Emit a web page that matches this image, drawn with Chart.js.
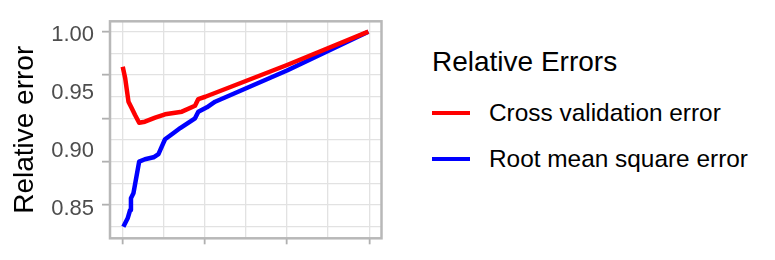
<!DOCTYPE html>
<html>
<head>
<meta charset="utf-8">
<title>Relative Errors</title>
<script src="https://cdn.jsdelivr.net/npm/chart.js@4"></script>
<style>
  body { margin: 0; background: #fff; font-family: "Liberation Sans", Arial, sans-serif; }
  #wrap { position: relative; width: 775px; height: 260px; }
  #chart-box { position: absolute; left: 0; top: 0; width: 400px; height: 260px; }
  .legend-title { position: absolute; left: 432px; top: 47.5px; font-size: 28px; line-height: 1; color: #000; white-space: nowrap; }
  .legend-key { position: absolute; left: 432px; width: 38px; height: 4px; }
  .legend-text { position: absolute; left: 489px; font-size: 24.4px; line-height: 1; color: #000; white-space: nowrap; }
</style>
</head>
<body>
<div id="wrap">
  <div id="chart-box"><canvas id="errors-chart"></canvas></div>
  <div id="legend"></div>
</div>
<script>
// series (x in plot units, grid every 10)
const cvX = [0, 0.6, 1.4, 2.2, 3.0, 4.0, 5.4, 7.9, 10.3, 14.4, 17.6, 18.4, 20.1, 40.0, 59.8];
const cvY = [0.9697, 0.9597, 0.9394, 0.9337, 0.9279, 0.9212, 0.9221, 0.9256, 0.9285, 0.9308, 0.9359, 0.9417, 0.9437, 0.9712, 1.0];
const rmseX = [0.15, 1.2, 1.8, 2.0, 2.6, 4.0, 5.4, 7.5, 8.7, 9.5, 10.3, 12.3, 14.0, 17.6, 18.4, 20.5, 22.5, 40.0, 59.8];
const rmseY = [0.8312, 0.8385, 0.8457, 0.8558, 0.8601, 0.8875, 0.8896, 0.8913, 0.8941, 0.9005, 0.9069, 0.9121, 0.9166, 0.9250, 0.9308, 0.9346, 0.9394, 0.9664, 1.0];

const seriesNames = ['Cross validation error', 'Root mean square error'];
const seriesColors = ['#ff0000', '#0000ff'];
const legendTitle = 'Relative Errors';

const xGridTicks = [0, 10, 20, 30, 40, 50, 60];
const yGridTicks = [0.83125, 0.85, 0.86875, 0.8875, 0.90625, 0.925, 0.94375, 0.9625, 0.98125, 1.0];
const yLabelTicks = [0.85, 0.90, 0.95, 1.00];

const toPoints = (xs, ys) => xs.map((x, i) => ({ x, y: ys[i] }));

const panelBorder = {
  id: 'panelBorder',
  afterDraw(chart) {
    const { ctx, chartArea: a } = chart;
    ctx.save();
    ctx.strokeStyle = '#b8b8b8';
    ctx.lineWidth = 2.5;
    ctx.strokeRect(a.left, a.top, a.right - a.left, a.bottom - a.top);
    ctx.restore();
  }
};

const yRange = { min: 0.8212, max: 1.0090 };

new Chart(document.getElementById('errors-chart'), {
  type: 'scatter',
  data: {
    datasets: [
      { label: seriesNames[0], data: toPoints(cvX, cvY), borderColor: seriesColors[0] },
      { label: seriesNames[1], data: toPoints(rmseX, rmseY), borderColor: seriesColors[1] },
    ].map((d) => ({ ...d, showLine: true, borderWidth: 4.5, pointRadius: 0, tension: 0, borderJoinStyle: 'round' })),
  },
  options: {
    responsive: true,
    maintainAspectRatio: false,
    animation: false,
    layout: { padding: { top: 21.3, right: 18.5, left: 0, bottom: 0 } },
    plugins: { legend: { display: false }, tooltip: { enabled: false } },
    scales: {
      x: {
        type: 'linear',
        min: -3.1,
        max: 63.0,
        afterBuildTicks: (s) => { s.ticks = xGridTicks.map((v) => ({ value: v })); },
        afterFit: (s) => { s.height = 21.7; },
        border: { display: false },
        grid: {
          color: '#e2e2e2',
          lineWidth: 1.3,
          tickLength: 6,
          tickWidth: 1.8,
          tickColor: (c) => (c.index % 2 === 0 ? '#b0b0b0' : 'rgba(0,0,0,0)'),
        },
        ticks: { callback: () => '' },
      },
      y: {
        position: 'left',
        weight: 1,
        ...yRange,
        afterBuildTicks: (s) => { s.ticks = yLabelTicks.map((v) => ({ value: v })); },
        afterFit: (s) => { s.width = 110; },
        border: { display: false },
        grid: { drawOnChartArea: false, tickLength: 8, tickColor: 'rgba(0,0,0,0)' },
        ticks: {
          color: '#4d4d4d',
          font: { family: '"Liberation Sans", Arial, sans-serif', size: 22 },
          padding: 8,
          labelOffset: 3.5,
          callback: (v) => v.toFixed(2),
        },
        title: {
          display: true,
          text: 'Relative error',
          color: '#000',
          font: { family: '"Liberation Sans", Arial, sans-serif', size: 28 },
          padding: { top: 8.2, bottom: 0 },
        },
      },
      yGrid: {
        position: 'left',
        weight: 0,
        ...yRange,
        afterBuildTicks: (s) => { s.ticks = yGridTicks.map((v) => ({ value: v })); },
        afterFit: (s) => { s.width = 0; },
        border: { display: false },
        grid: {
          color: '#e2e2e2',
          lineWidth: 1.3,
          tickLength: 8,
          tickWidth: 1.8,
          tickColor: (c) => (c.index % 2 === 1 ? '#b0b0b0' : 'rgba(0,0,0,0)'),
        },
        ticks: { display: false },
      },
    },
  },
  plugins: [panelBorder],
});

// legend on the right
const legend = document.getElementById('legend');
const keyTops = [110.7, 157.3];
const textTops = [101.3, 147];
legend.innerHTML = `<div class="legend-title">${legendTitle}</div>` + seriesNames
  .map((name, i) => `
    <div class="legend-key" style="top:${keyTops[i]}px;background:${seriesColors[i]}"></div>
    <div class="legend-text" style="top:${textTops[i]}px">${name}</div>
  `)
  .join('');
</script>
</body>
</html>
